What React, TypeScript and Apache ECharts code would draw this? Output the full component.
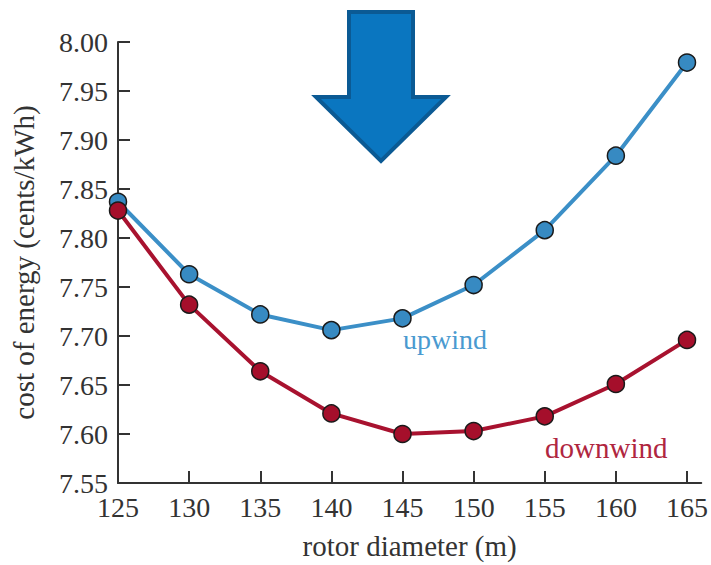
import React, { useEffect, useRef } from "react";
import * as echarts from "echarts";

const diameters = [125, 130, 135, 140, 145, 150, 155, 160, 165];
const upwind = [7.837, 7.763, 7.722, 7.706, 7.718, 7.752, 7.808, 7.884, 7.979];
const downwind = [7.828, 7.732, 7.664, 7.621, 7.6, 7.603, 7.618, 7.651, 7.696];
const xTicks = [125, 130, 135, 140, 145, 150, 155, 160, 165];

const FONT = "'Liberation Serif', 'DejaVu Serif', serif";
const BLUE_LINE = "#3b8fc7";
const BLUE_DOT = "#378ac2";
const RED_LINE = "#a8122f";
const RED_DOT = "#a50f2b";

export default function App() {
  const ref = useRef<HTMLDivElement>(null);
  useEffect(() => {
    if (!ref.current) return;
    const chart = echarts.init(ref.current, null, { renderer: "svg" });
    const axisLine = { show: true, lineStyle: { color: "#333", width: 2 } };
    chart.setOption({
      animation: false,
      backgroundColor: "#fff",
      grid: { left: 118, top: 42, right: 9, bottom: 78, containLabel: false },
      xAxis: {
        type: "value",
        min: 125,
        max: 166,
        axisLine: { ...axisLine, onZero: false },
        axisTick: { show: true, inside: true, length: 12, lineStyle: { color: "#333", width: 2 }, customValues: xTicks },
        axisLabel: { customValues: xTicks, margin: 10, fontFamily: FONT, fontSize: 28, color: "#333" },
        splitLine: { show: false },
        name: "rotor diameter (m)",
        nameLocation: "middle",
        nameGap: 48,
        nameTextStyle: { fontFamily: FONT, fontSize: 29, color: "#333" },
      },
      yAxis: {
        type: "value",
        min: 7.55,
        max: 8.0,
        interval: 0.05,
        axisLine,
        axisTick: { show: true, inside: true, length: 12, lineStyle: { color: "#333", width: 2 } },
        axisLabel: {
          margin: 10,
          fontFamily: FONT,
          fontSize: 28,
          color: "#333",
          formatter: (v: number) => v.toFixed(2),
        },
        splitLine: { show: false },
        name: "cost of energy (cents/kWh)",
        nameLocation: "middle",
        nameRotate: 90,
        nameGap: 80,
        nameTextStyle: { fontFamily: FONT, fontSize: 29, color: "#333" },
      },
      series: [
        {
          name: "upwind",
          type: "line",
          data: diameters.map((d, i) => [d, upwind[i]]),
          symbol: "circle",
          symbolSize: 17,
          lineStyle: { color: BLUE_LINE, width: 4 },
          itemStyle: { color: BLUE_DOT, borderColor: "#1a1a1a", borderWidth: 1.5 },
          clip: true,
          z: 2,
        },
        {
          name: "downwind",
          type: "line",
          data: diameters.map((d, i) => [d, downwind[i]]),
          symbol: "circle",
          symbolSize: 17,
          lineStyle: { color: RED_LINE, width: 4 },
          itemStyle: { color: RED_DOT, borderColor: "#1a1a1a", borderWidth: 1.5 },
          clip: true,
          z: 3,
        },
      ],
      graphic: [
        {
          type: "text",
          left: 403,
          top: 325,
          style: { text: "upwind", fontFamily: FONT, fontSize: 28, fill: "#4a9ad0" },
        },
        {
          type: "text",
          left: 545,
          top: 433,
          style: { text: "downwind", fontFamily: FONT, fontSize: 29, fill: "#b0263f" },
        },
        {
          type: "polygon",
          z: 100,
          shape: {
            points: [
              [349, 12],
              [413, 12],
              [413, 97],
              [446, 97],
              [381, 161],
              [316, 97],
              [349, 97],
            ],
          },
          style: { fill: "#0a76c0", stroke: "#0b5a94", lineWidth: 4, lineJoin: "miter" },
        },
      ],
    });
    return () => chart.dispose();
  }, []);
  return (
    <div
      ref={ref}
      style={{ position: "fixed", left: 0, top: 0, width: 711, height: 565, background: "#fff" }}
    />
  );
}
